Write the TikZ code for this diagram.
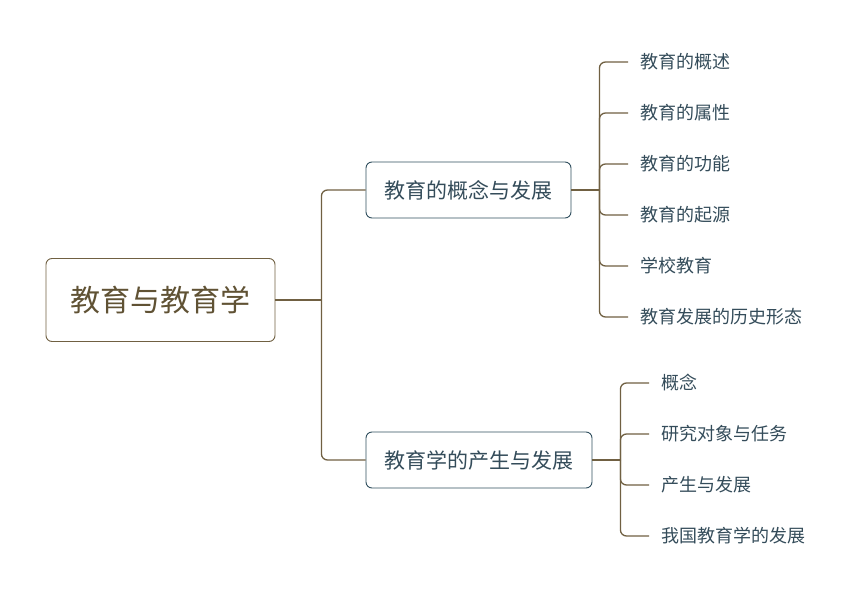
\documentclass[tikz,border=0pt]{standalone}
\usepackage{fontspec}
\setmainfont{Noto Sans CJK SC}
\usepackage{xcolor}
\usepackage{tikz}
\usetikzlibrary{arrows.meta,positioning,calc}
\definecolor{brownline}{RGB}{112,96,66}
\definecolor{browntext}{RGB}{96,82,52}
\definecolor{slate}{RGB}{48,78,94}
\definecolor{slatetext}{RGB}{52,76,90}
\tikzset{
  rootbox/.style={draw=brownline, rounded corners=6pt, line width=0.9pt,
    minimum height=83pt, minimum width=229pt, text=browntext, font=\fontsize{30}{33}\selectfont},
  topicbox/.style={draw=slate, rounded corners=6pt, line width=0.9pt,
    minimum height=56pt, inner xsep=18.5pt, text=slatetext, font=\fontsize{21}{24}\selectfont},
  leaf/.style={anchor=west, inner xsep=12pt, text=slatetext, font=\fontsize{18}{21}\selectfont},
  link/.style={draw=brownline, line width=1.3pt},
  elbow/.style={link, rounded corners=6pt}
}

\begin{document}
\begin{tikzpicture}[x=1pt, y=-1pt]
\useasboundingbox (0,0) rectangle (867,604);

\node[rootbox] (root) at (160.5,300) {教育与教育学};
\node[topicbox] (concept) at (468.5,190) {教育的概念与发展};
\node[topicbox] (origin) at (479,460) {教育学的产生与发展};

% first branch leaves
\node[leaf] (l1) at (628,62) {教育的概述};
\node[leaf] (l2) at (628,113) {教育的属性};
\node[leaf] (l3) at (628,164) {教育的功能};
\node[leaf] (l4) at (628,215) {教育的起源};
\node[leaf] (l5) at (628,266) {学校教育};
\node[leaf] (l6) at (628,317) {教育发展的历史形态};

% second branch leaves
\node[leaf] (m1) at (649,383) {概念};
\node[leaf] (m2) at (649,434) {研究对象与任务};
\node[leaf] (m3) at (649,485) {产生与发展};
\node[leaf] (m4) at (649,536) {我国教育学的发展};

\coordinate (j0) at ($(root.east)+(46,0)$);
\coordinate (j1) at ($(concept.east)+(28,0)$);
\coordinate (j2) at ($(origin.east)+(28,0)$);

\draw[link] (root.east) -- (j0);
\draw[elbow] (j0) |- (concept.west);
\draw[elbow] (j0) |- (origin.west);

\draw[link] (concept.east) -- (j1);
\draw[elbow] (j1) |- (l1.west);
\draw[elbow] (j1) |- (l2.west);
\draw[elbow] (j1) |- (l3.west);
\draw[elbow] (j1) |- (l4.west);
\draw[elbow] (j1) |- (l5.west);
\draw[elbow] (j1) |- (l6.west);

\draw[link] (origin.east) -- (j2);
\draw[elbow] (j2) |- (m1.west);
\draw[elbow] (j2) |- (m2.west);
\draw[elbow] (j2) |- (m3.west);
\draw[elbow] (j2) |- (m4.west);
\end{tikzpicture}
\end{document}
